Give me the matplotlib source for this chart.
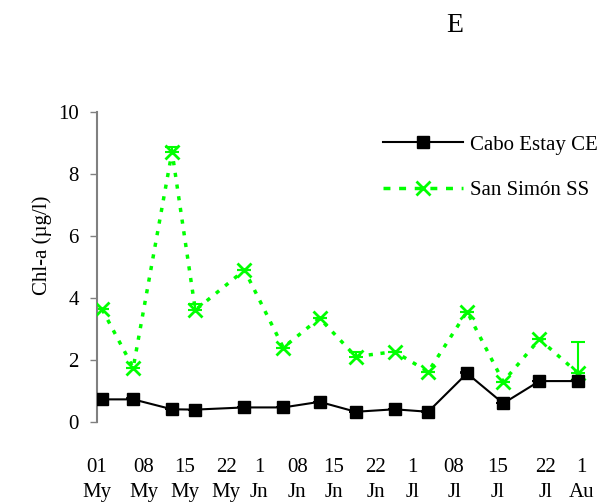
import matplotlib
matplotlib.use("Agg")
import matplotlib.pyplot as plt
from matplotlib.lines import Line2D

plt.rcParams['font.family'] = ['Liberation Serif', 'DejaVu Serif']

# sampling day (days since 1 May)
days = [0, 6, 13.5, 18, 27.5, 35, 42, 49, 56.5, 63, 70.5, 77.5, 84.5, 92]
cabo_estay = [0.73, 0.73, 0.41, 0.40, 0.47, 0.47, 0.65, 0.33, 0.41, 0.33, 1.57, 0.60, 1.32, 1.32]
cabo_estay_err = [0.03, 0.03, 0, 0, 0, 0, 0, 0, 0.02, 0.03, 0.03, 0, 0, 0.03]
san_simon = [3.63, 1.75, 8.72, 3.61, 4.90, 2.40, 3.35, 2.11, 2.27, 1.62, 3.56, 1.30, 2.67, 1.57]
san_simon_err = [0, 0, 0.15, 0.2, 0, 0, 0, 0.15, 0, 0, 0, 0, 0, 1.0]

tick_days = [-1, 8, 16, 24, 30.3, 37.7, 44.8, 52.9, 60, 68, 76.4, 85.6, 92.6]
tick_labels = ["01\nMy", "08\nMy", "15\nMy", "22\nMy", "1\nJn", "08\nJn", "15\nJn", "22\nJn",
               "1\nJl", "08\nJl", "15\nJl", "22\nJl", "1\nAu"]

FS = 15
fig = plt.figure(figsize=(6.08, 5.04), dpi=100)
ax = fig.add_axes([97/608, 1-422/504, 503/608, 310/504])

green = '#00ff00'
ax.errorbar(days, san_simon, yerr=[[0]*len(san_simon_err), san_simon_err], fmt='none',
            ecolor=green, elinewidth=1.5, capsize=5, capthick=1.5, zorder=2)
ax.plot(days, san_simon, color=green, linestyle=(0, (1.2, 2.2)), linewidth=2.5,
        marker='x', markersize=9.5, markeredgewidth=2, zorder=3)
ax.errorbar(days, cabo_estay, yerr=[[0]*len(cabo_estay_err), cabo_estay_err], fmt='none',
            ecolor='black', elinewidth=1.2, capsize=5, capthick=1.2, zorder=4)
ax.plot(days, cabo_estay, color='black', linestyle='-', linewidth=1.5,
        marker='s', markersize=8.5, zorder=5)

ax.set_xlim(-0.2, 96.2)
ax.set_ylim(0, 10)
ax.set_yticks([0, 2, 4, 6, 8, 10])
ax.tick_params(axis='y', direction='out', length=5, width=1, color='#808080',
               labelsize=FS, pad=8)
ax.set_xticks(tick_days)
ax.set_xticklabels(tick_labels, fontsize=FS, linespacing=1.45)
ax.tick_params(axis='x', length=0, pad=26)
for s in ['top', 'right', 'bottom']:
    ax.spines[s].set_visible(False)
ax.spines['left'].set_color('#808080')
ax.spines['left'].set_linewidth(1.5)
ax.set_ylabel("Chl-a (µg/l)", fontsize=FS)
ax.yaxis.set_label_coords((52-97)/503, (422-245)/310)

handles = [Line2D([], [], color='black', linewidth=1.5, marker='s', markersize=8.5),
           Line2D([], [], color=green, linewidth=2.5, linestyle=(0, (2, 2.5)),
                  marker='x', markersize=9.5, markeredgewidth=2)]
leg = ax.legend(handles, ["Cabo Estay CE", "San Simón SS"], loc='upper left',
                bbox_to_anchor=(286/503, 1-(135-112)/310), frameon=False, fontsize=FS,
                handlelength=3.85, handletextpad=0.34, labelspacing=1.24, borderaxespad=0,
                borderpad=0)

fig.text(455/608, 1-25/504, "E", fontsize=20, ha='center', va='center')

fig.savefig("out.png", dpi=100)
